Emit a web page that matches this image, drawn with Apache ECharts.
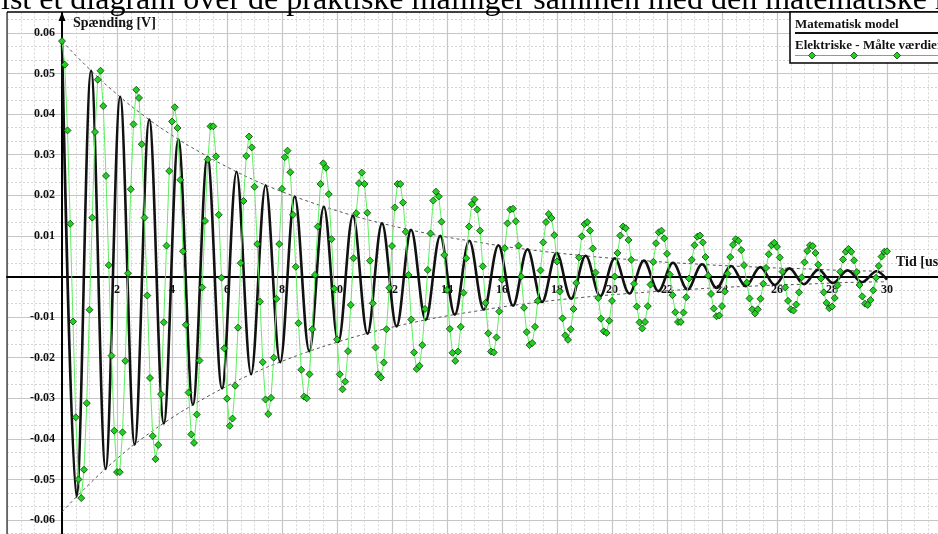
<!DOCTYPE html>
<html>
<head>
<meta charset="utf-8">
<title>Spænding over tid</title>
<script src="https://cdn.jsdelivr.net/npm/echarts@6/dist/echarts.min.js"></script>
<style>
  html, body { margin: 0; padding: 0; background: #fff; }
  #chart { width: 938px; height: 534px; }
</style>
</head>
<body>
<div id="chart"></div>
<script>
// maalte vaerdier, en sample pr. 0.1 us (t = 0 .. 30)
var sampleStep = 0.1;
var measured = [
  0.058, 0.0522, 0.036, 0.013, -0.0111, -0.0347, -0.050, -0.0546, -0.0476, -0.0312,
  -0.0082, 0.0145, 0.0356, 0.0485, 0.0507, 0.042, 0.0248, 0.0028, -0.0195, -0.038,
  -0.0482, -0.0482, -0.0384, -0.0208, 0.0008, 0.0215, 0.0375, 0.046, 0.044, 0.0326,
  0.0145, -0.0047, -0.025, -0.0393, -0.045, -0.0415, -0.029, -0.0113, 0.0076, 0.026,
  0.0382, 0.0417, 0.0366, 0.0238, 0.0062, -0.0119, -0.0286, -0.0389, -0.041, -0.034,
  -0.0207, -0.0027, 0.0137, 0.0288, 0.037, 0.037, 0.0296, 0.0152, -0.0003, -0.0177,
  -0.0301, -0.0368, -0.035, -0.0269, -0.0126, 0.0033, 0.0186, 0.0297, 0.0345, 0.0318,
  0.0221, 0.008, -0.0062, -0.0211, -0.0303, -0.0339, -0.0299, -0.020, -0.0055, 0.008,
  0.0216, 0.0294, 0.031, 0.0257, 0.0152, 0.0024, -0.0115, -0.023, -0.0296, -0.030,
  -0.0241, -0.013, 0.0004, 0.0123, 0.0228, 0.0279, 0.0268, 0.0203, 0.0092, -0.003,
  -0.0155, -0.0241, -0.0278, -0.0259, -0.0184, -0.007, 0.0045, 0.0156, 0.023, 0.0256,
  0.0228, 0.0157, 0.0039, -0.0066, -0.0175, -0.0241, -0.0249, -0.0212, -0.013, -0.0028,
  0.0075, 0.017, 0.0228, 0.0228, 0.0182, 0.011, 0.0004, -0.0106, -0.0187, -0.0228,
  -0.022, -0.0169, -0.008, 0.0016, 0.0106, 0.0187, 0.0209, 0.0197, 0.0135, 0.0053,
  -0.0033, -0.0129, -0.0188, -0.0208, -0.0185, -0.0124, -0.004, 0.0045, 0.0123, 0.0178,
  0.019, 0.0165, 0.0113, 0.0025, -0.0065, -0.014, -0.0185, -0.0187, -0.015, -0.0086,
  -0.0008, 0.007, 0.0131, 0.0165, 0.0167, 0.0136, 0.0076, 0.0, -0.0077, -0.0137,
  -0.0169, -0.0164, -0.0124, -0.006, 0.0015, 0.0084, 0.0134, 0.0154, 0.0144, 0.0102,
  0.0037, -0.0037, -0.0103, -0.0145, -0.0156, -0.013, -0.008, -0.0016, 0.0047, 0.0099,
  0.0129, 0.0134, 0.0113, 0.0069, 0.001, -0.0053, -0.0104, -0.0135, -0.0139, -0.0109,
  -0.006, 0.0, 0.0058, 0.0101, 0.0123, 0.0119, 0.009, 0.0041, -0.0018, -0.0074,
  -0.0113, -0.0128, -0.0112, -0.0073, -0.002, 0.0036, 0.0082, 0.0109, 0.0113, 0.0094,
  0.0056, 0.0005, -0.0046, -0.0088, -0.0112, -0.0112, -0.0089, -0.0051, -0.0005, 0.0041,
  0.0077, 0.0098, 0.0101, 0.0084, 0.0048, 0.0002, -0.0043, -0.0079, -0.0098, -0.0096,
  -0.0073, -0.0037, 0.0007, 0.0048, 0.0078, 0.0092, 0.0088, 0.0065, 0.0028, -0.0015,
  -0.0054, -0.0081, -0.0091, -0.0081, -0.0055, -0.0018, 0.0021, 0.0055, 0.0077, 0.0083,
  0.0073, 0.0047, 0.0012, -0.0027, -0.006, -0.0081, -0.0084, -0.0069, -0.0039, -0.0002,
  0.0035, 0.0063, 0.0077, 0.0075, 0.0058, 0.0029, -0.0005, -0.0039, -0.0065, -0.0078,
  -0.0074, -0.0053, -0.0022, 0.0012, 0.0042, 0.0061, 0.0068, 0.0061, 0.004, 0.0011,
  -0.0021, -0.0049, -0.0067, -0.007, -0.0058, -0.0034, -0.0003, 0.0026, 0.0049, 0.0061,
  0.0062
];

// matematisk model: toppe og dale aflaest paa kurven
var modelTime = [
  0, 0.529, 1.058, 1.587, 2.116, 2.645, 3.174, 3.703, 4.232, 4.761,
  5.29, 5.819, 6.348, 6.877, 7.406, 7.935, 8.464, 8.993, 9.522, 10.051,
  10.58, 11.109, 11.638, 12.167, 12.696, 13.225, 13.754, 14.283, 14.812, 15.341,
  15.87, 16.399, 16.928, 17.457, 17.986, 18.515, 19.044, 19.573, 20.102, 20.631,
  21.16, 21.689, 22.218, 22.747, 23.276, 23.805, 24.334, 24.863, 25.392, 25.921,
  26.45, 26.979, 27.508, 28.037, 28.566, 29.095, 29.624, 30
];
var modelValue = [
  0.058, -0.0542, 0.0507, -0.0474, 0.0443, -0.0414, 0.0387, -0.0362, 0.0338, -0.0316,
  0.0295, -0.0276, 0.0258, -0.0241, 0.0225, -0.0211, 0.0197, -0.0184, 0.0172, -0.0161,
  0.0150, -0.0141, 0.0131, -0.0123, 0.0115, -0.0107, 0.0100, -0.0094, 0.0088, -0.0082,
  0.0077, -0.0072, 0.0067, -0.0063, 0.0058, -0.0055, 0.0051, -0.0048, 0.0045, -0.0042,
  0.0039, -0.0036, 0.0034, -0.0032, 0.0030, -0.0028, 0.0026, -0.0024, 0.0023, -0.0021,
  0.0020, -0.0019, 0.0017, -0.0016, 0.0015, -0.0014, 0.0013, -0.0008
];

// indhyllingskurver (stiplede)
var envTime = [0, 1, 2, 3, 4, 5, 6, 7, 8, 9, 10, 11, 12, 13, 14, 15,
  16, 17, 18, 19, 20, 21, 22, 23, 24, 25, 26, 27, 28, 29, 30];
var envHigh = [0.058, 0.0511, 0.0449, 0.0395, 0.0348, 0.0307, 0.0270, 0.0237, 0.0209, 0.0184,
  0.0162, 0.0142, 0.0125, 0.0110, 0.0097, 0.0086, 0.0075, 0.0066, 0.0058, 0.0051,
  0.0045, 0.0040, 0.0035, 0.0031, 0.0027, 0.0024, 0.0021, 0.0019, 0.0016, 0.0014, 0.0013];
var envLow = [-0.058, -0.0511, -0.0449, -0.0395, -0.0348, -0.0307, -0.0270, -0.0237, -0.0209, -0.0184,
  -0.0162, -0.0142, -0.0125, -0.0110, -0.0097, -0.0086, -0.0075, -0.0066, -0.0058, -0.0051,
  -0.0045, -0.0040, -0.0035, -0.0031, -0.0027, -0.0024, -0.0021, -0.0019, -0.0016, -0.0014, -0.0013];

var titleText = 'ist et diagram over de praktiske målinger sammen med den matematiske model';
var yName = 'Spænding [V]';
var xName = 'Tid [us]';
var legendNames = ['Matematisk model', 'Elektriske - Målte værdier'];

var serif = "'Liberation Serif', 'Times New Roman', serif";

function pairs(xs, ys) {
  var res = [];
  for (var i = 0; i < xs.length; i++) res.push([xs[i], ys[i]]);
  return res;
}
var measuredData = measured.map(function (v, i) {
  return [+(i * sampleStep).toFixed(1), v];
});

var chart = echarts.init(document.getElementById('chart'));

// rammen gaar ud over kanten: 0 us ligger ved x=62, 0 V ved y=276.5
var option = {
  animation: false,
  backgroundColor: '#fff',
  grid: { left: 7, right: -4, top: -7.6, bottom: -26.6, outerBoundsMode: 'none', containLabel: false },
  xAxis: {
    type: 'value', min: -2, max: 32, interval: 2,
    offset: -284.1,
    axisLine: { onZero: false, lineStyle: { color: '#000', width: 2 } },
    axisTick: { show: false },
    axisLabel: {
      margin: 7, color: '#111', fontFamily: serif, fontWeight: 'bold', fontSize: 12,
      formatter: function (v) { return (v <= 0 || v > 30) ? '' : String(v); }
    },
    splitLine: { show: true, lineStyle: { color: '#c6c6c6', width: 1.2 } },
    minorTick: { show: false, splitNumber: 4 },
    minorSplitLine: { show: true, lineStyle: { color: '#d4d4d4', width: 1, type: [2, 2] } }
  },
  yAxis: {
    type: 'value', min: -0.07, max: 0.07, interval: 0.01,
    offset: -55,
    axisLine: { onZero: false, lineStyle: { color: '#000', width: 2 } },
    axisTick: { show: false },
    axisLabel: {
      margin: 7, color: '#111', fontFamily: serif, fontWeight: 'bold', fontSize: 12,
      formatter: function (v) {
        if (Math.abs(v) < 1e-9 || Math.abs(v) > 0.0650) return '';
        return v.toFixed(2);
      }
    },
    splitLine: { show: true, lineStyle: { color: '#c6c6c6', width: 1.2 } },
    minorTick: { show: false, splitNumber: 3 },
    minorSplitLine: { show: true, lineStyle: { color: '#d4d4d4', width: 1, type: [2, 2] } }
  },
  series: [
    {
      type: 'line', data: pairs(envTime, envHigh), smooth: true, symbol: 'none', silent: true,
      lineStyle: { color: '#555', width: 1, type: [3, 3] }, z: 1
    },
    {
      type: 'line', data: pairs(envTime, envLow), smooth: true, symbol: 'none', silent: true,
      lineStyle: { color: '#555', width: 1, type: [3, 3] }, z: 1
    },
    {
      name: legendNames[0], type: 'line', data: pairs(modelTime, modelValue),
      smooth: 0.35, symbol: 'none',
      lineStyle: { color: '#111', width: 2.6 }, z: 2
    },
    {
      name: legendNames[1], type: 'line', data: measuredData,
      symbol: 'diamond', symbolSize: 7, showAllSymbol: true,
      lineStyle: { color: '#5ef05e', width: 1 },
      itemStyle: { color: '#22d022', borderColor: '#0b3d0b', borderWidth: 0.8 },
      z: 3
    }
  ],
  graphic: [
    // hvid strimmel over rammen med teksten fra dokumentet
    { type: 'rect', z: 100, shape: { x: 0, y: 0, width: 938, height: 12 }, style: { fill: '#fff' } },
    { type: 'text', z: 101, x: 1, y: 1,
      style: { text: titleText, font: '32px ' + serif, fill: '#000', verticalAlign: 'middle' } },
    { type: 'line', z: 102, shape: { x1: 7, y1: 12, x2: 938, y2: 12 }, style: { stroke: '#000', lineWidth: 1.5 } },
    { type: 'line', z: 102, shape: { x1: 7, y1: 12, x2: 7, y2: 534 }, style: { stroke: '#000', lineWidth: 1 } },
    // pil paa y-aksen
    { type: 'polygon', z: 102, shape: { points: [[62, 12], [58.5, 21], [65.5, 21]] }, style: { fill: '#000' } },
    { type: 'text', z: 102, x: 73, y: 23,
      style: { text: yName, font: 'bold 14px ' + serif, fill: '#111', verticalAlign: 'middle' } },
    { type: 'text', z: 102, x: 896, y: 262,
      style: { text: xName, font: 'bold 14px ' + serif, fill: '#111', verticalAlign: 'middle' } },
    // signaturforklaring
    { type: 'rect', z: 103, shape: { x: 790, y: 12, width: 160, height: 51 },
      style: { fill: '#fff', stroke: '#000', lineWidth: 1.5 } },
    { type: 'text', z: 104, x: 795, y: 24.5,
      style: { text: legendNames[0], font: 'bold 13px ' + serif, fill: '#111', verticalAlign: 'middle' } },
    { type: 'line', z: 104, shape: { x1: 795, y1: 33, x2: 938, y2: 33 }, style: { stroke: '#111', lineWidth: 2 } },
    { type: 'text', z: 104, x: 795, y: 45.5,
      style: { text: legendNames[1], font: 'bold 13px ' + serif, fill: '#111', verticalAlign: 'middle' } },
    { type: 'line', z: 104, shape: { x1: 795, y1: 55.5, x2: 938, y2: 55.5 }, style: { stroke: '#33dd33', lineWidth: 1 } },
    { type: 'polygon', z: 105, shape: { points: [[812, 52], [815.5, 55.5], [812, 59], [808.5, 55.5]] },
      style: { fill: '#22d022', stroke: '#0b3d0b', lineWidth: 0.8 } },
    { type: 'polygon', z: 105, shape: { points: [[854, 52], [857.5, 55.5], [854, 59], [850.5, 55.5]] },
      style: { fill: '#22d022', stroke: '#0b3d0b', lineWidth: 0.8 } },
    { type: 'polygon', z: 105, shape: { points: [[897, 52], [900.5, 55.5], [897, 59], [893.5, 55.5]] },
      style: { fill: '#22d022', stroke: '#0b3d0b', lineWidth: 0.8 } }
  ]
};

chart.setOption(option);
</script>
</body>
</html>
